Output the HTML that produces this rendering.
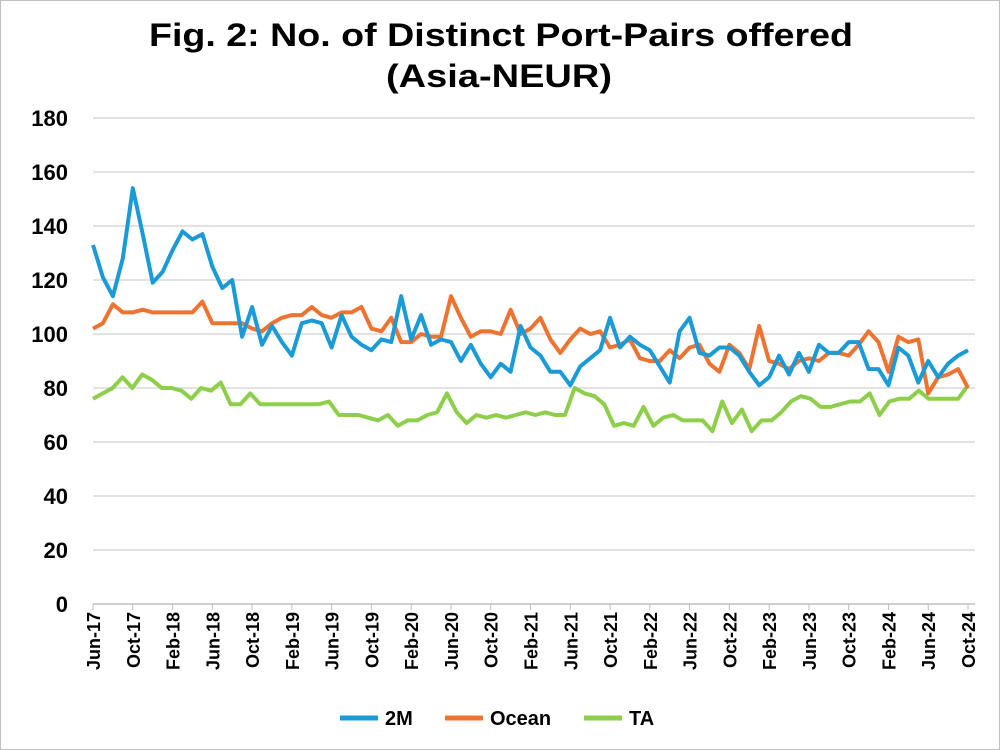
<!DOCTYPE html>
<html><head><meta charset="utf-8"><style>
body{margin:0;background:#fff;}
svg{display:block;font-family:"Liberation Sans",Arial,sans-serif;}
</style></head><body>
<svg id="c" width="1000" height="750" xmlns="http://www.w3.org/2000/svg">
<rect x="0.5" y="0.5" width="999" height="749" fill="#fff" stroke="#bfbfbf"/>
<text x="149" y="46" font-size="32" font-weight="bold" fill="#000" textLength="704" lengthAdjust="spacingAndGlyphs">Fig. 2: No. of Distinct Port-Pairs offered</text>
<text x="386" y="87" font-size="32" font-weight="bold" fill="#000" textLength="226" lengthAdjust="spacingAndGlyphs">(Asia-NEUR)</text>
<g id="grid"></g><g id="series"></g><g id="xl"></g>
<g font-size="20" font-weight="bold">
<line x1="340" y1="718" x2="378" y2="718" stroke="#1a9ad6" stroke-width="5"/><text x="385" y="725">2M</text>
<line x1="445" y1="718" x2="483" y2="718" stroke="#ee7330" stroke-width="5"/><text x="490" y="725">Ocean</text>
<line x1="584" y1="718" x2="622" y2="718" stroke="#8dcf4a" stroke-width="5"/><text x="629" y="725">TA</text>
</g>
</svg>
<script>
var NS="http://www.w3.org/2000/svg";
function el(p,t,a,txt){var e=document.createElementNS(NS,t);for(var k in a)e.setAttribute(k,a[k]);if(txt)e.textContent=txt;p.appendChild(e);return e;}
var x0=93,x1=968,yb=604,sc=2.7;
var g=document.getElementById('grid');
for(var v=0;v<=180;v+=20){var y=yb-v*sc;
 if(v>0)el(g,'line',{x1:x0,x2:975,y1:y,y2:y,stroke:'#d9d9d9','stroke-width':1.5});
 el(g,'text',{x:68,y:y+8,'text-anchor':'end','font-size':22,'font-weight':'bold'},String(v));}
el(g,'line',{x1:x0,x2:975,y1:yb,y2:yb,stroke:'#bfbfbf','stroke-width':1.5});
var m2=[133,121,114,128,154,137,119,123,131,138,135,137,125,117,120,99,110,96,103,97,92,104,105,104,95,107,99,96,94,98,97,114,98,107,96,98,97,90,96,89,84,89,86,103,95,92,86,86,81,88,91,94,106,95,99,96,94,88,82,101,106,93,92,95,95,92,86,81,84,92,85,93,86,96,93,93,97,97,87,87,81,95,92,82,90,84,89,92,94];
var oc=[102,104,111,108,108,109,108,108,108,108,108,112,104,104,104,104,102,101,104,106,107,107,110,107,106,108,108,110,102,101,106,97,97,100,99,99,114,106,99,101,101,100,109,100,102,106,98,93,98,102,100,101,95,96,98,91,90,90,94,91,95,96,89,86,96,93,87,103,90,89,87,90,91,90,93,93,92,96,101,97,86,99,97,98,78,84,85,87,80];
var ta=[76,78,80,84,80,85,83,80,80,79,76,80,79,82,74,74,78,74,74,74,74,74,74,74,75,70,70,70,69,68,70,66,68,68,70,71,78,71,67,70,69,70,69,70,71,70,71,70,70,80,78,77,74,66,67,66,73,66,69,70,68,68,68,64,75,67,72,64,68,68,71,75,77,76,73,73,74,75,75,78,70,75,76,76,79,76,76,76,76,81];
var s=document.getElementById('series');
[[ta,'#8dcf4a'],[oc,'#ee7330'],[m2,'#1a9ad6']].forEach(function(d){
 var a=d[0],n=a.length,pts=[];
 for(var i=0;i<n;i++)pts.push((x0+i*(x1-x0)/(n-1)).toFixed(1)+','+(yb-a[i]*sc).toFixed(1));
 el(s,'polyline',{points:pts.join(' '),fill:'none',stroke:d[1],'stroke-width':4,'stroke-linejoin':'round'});
});
var xl=document.getElementById('xl');
var months=['Jan','Feb','Mar','Apr','May','Jun','Jul','Aug','Sep','Oct','Nov','Dec'];
for(var k=0;k<=88;k+=4){var mi=(5+k)%12,yy=17+Math.floor((5+k)/12);
 var x=x0+k*(x1-x0)/88;
 el(xl,'line',{x1:x,x2:x,y1:yb,y2:yb+6,stroke:'#bfbfbf'});
 el(xl,'text',{transform:'translate('+(x+7)+',612) rotate(-90)','text-anchor':'end','font-size':18,'font-weight':'bold'},months[mi]+'-'+yy);}
</script>
</body></html>
